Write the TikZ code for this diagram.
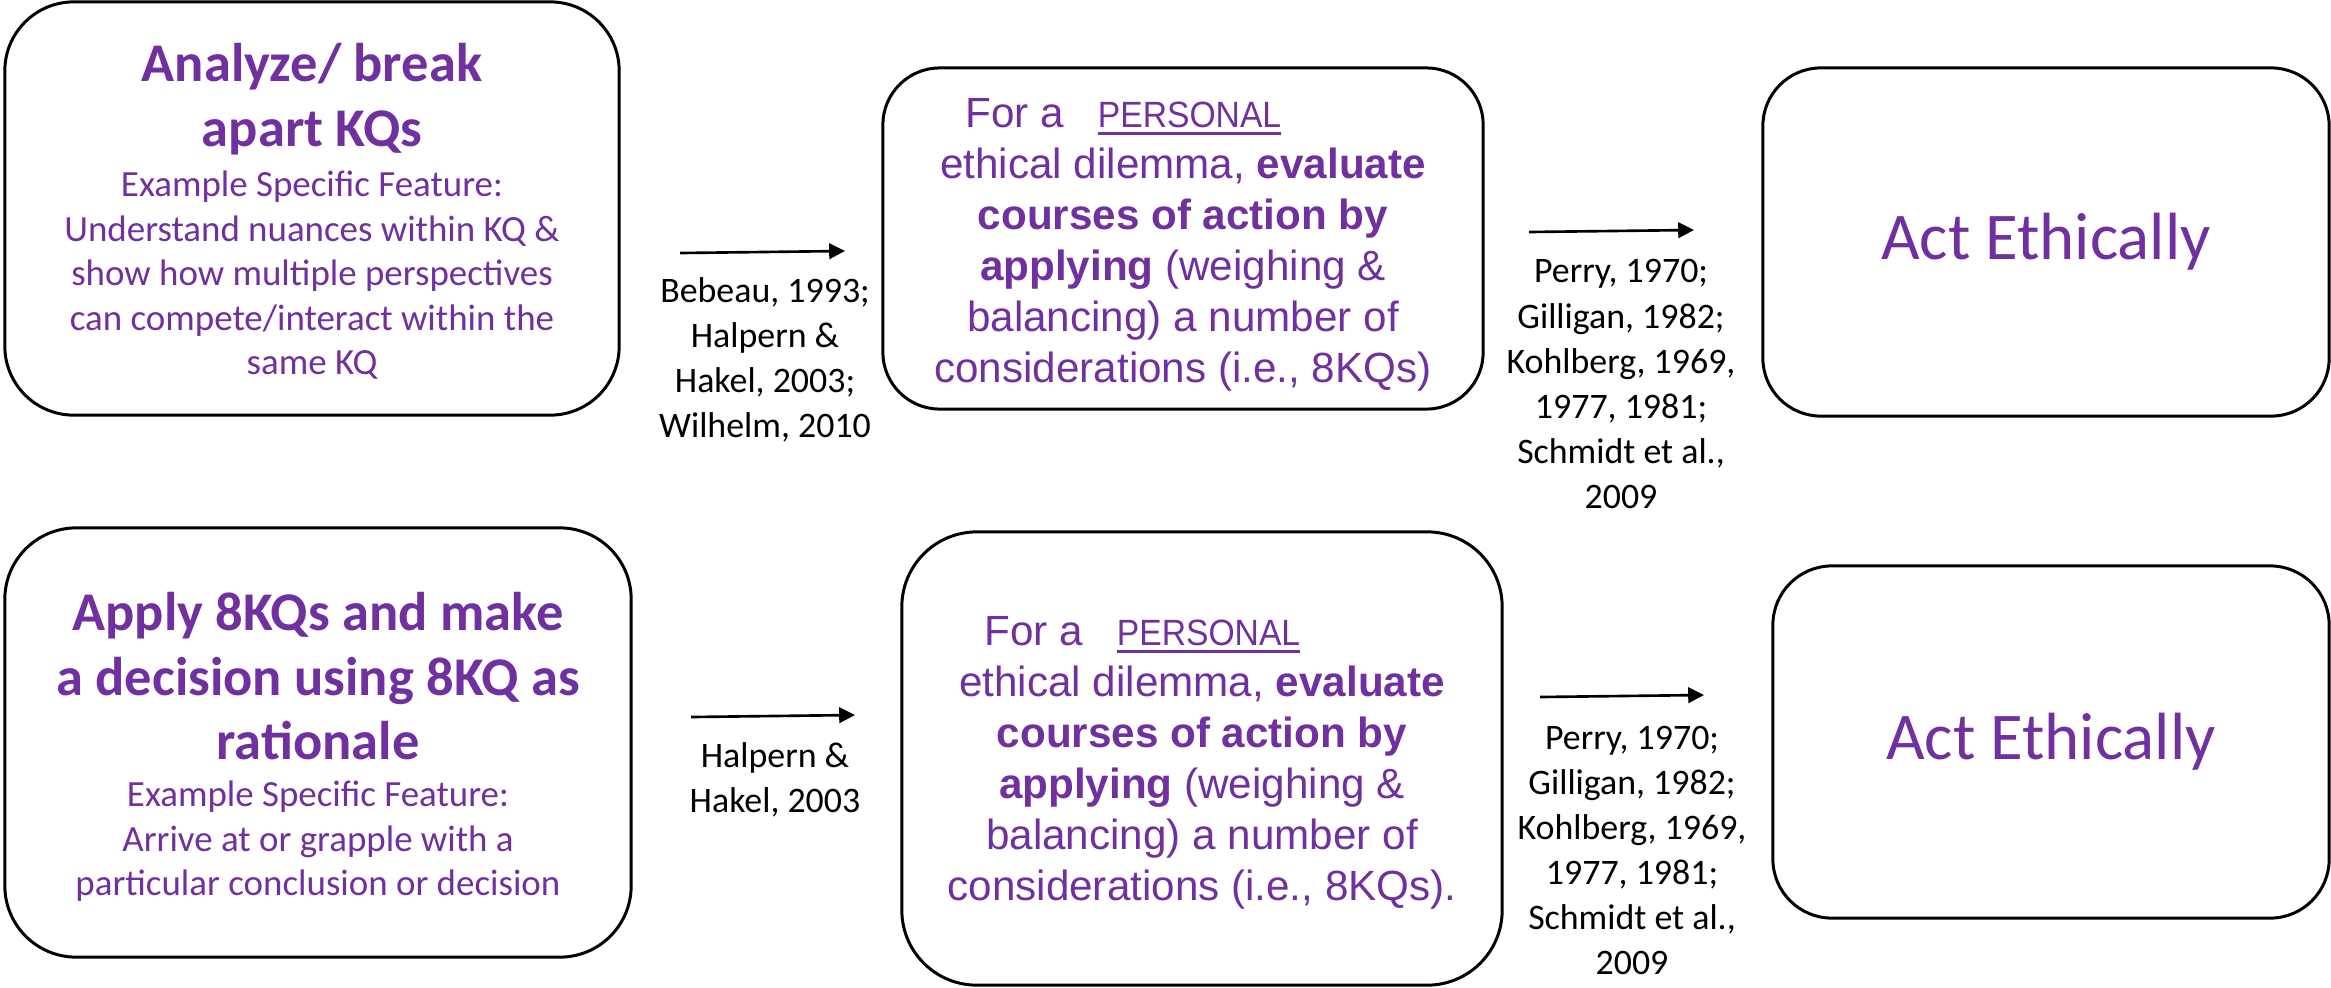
\documentclass[tikz,border=0pt]{standalone}
\usepackage{fontspec}
\usepackage{xcolor}
\usepackage{tikz}
\usetikzlibrary{arrows.meta}
\setmainfont{Carlito}
\newfontfamily\arialfont{Liberation Sans}
\newfontfamily\narrowfont[FakeStretch=0.92]{Liberation Sans}
\definecolor{kqpurple}{HTML}{7030A0}
\newcommand{\undl}[1]{\setbox0\hbox{#1}\rlap{\rule[-2pt]{\wd0}{0.85pt}}\box0}

\begin{document}
\begin{tikzpicture}[x=0.01cm, y=-0.01cm,
  box/.style={draw, line width=0.85pt, rounded corners=#1, inner sep=0pt},
  heading/.style={text=kqpurple, align=center, inner sep=0pt, anchor=north, font=\fontsize{15.5}{18.3}\selectfont\bfseries},
  feature/.style={text=kqpurple, align=center, inner sep=0pt, anchor=north, font=\fontsize{10.5}{12.7}\selectfont},
  course/.style={text=kqpurple, align=center, inner sep=0pt, anchor=north, font=\arialfont\fontsize{12}{14.5}\selectfont},
  act/.style={text=kqpurple, font=\fontsize{19}{23}\selectfont},
  cite/.style={align=center, inner sep=0pt, anchor=north, font=\fontsize{10.2}{12.8}\selectfont},
  link/.style={-{Triangle[length=4.5pt, width=4.4pt]}, line width=0.75pt}]
\useasboundingbox (0, 0) rectangle (2331, 987);

% top row
\node[box=19.6pt, minimum width=6.14cm, minimum height=4.13cm] (A1) at (312, 208.5) {};
\node[heading] (A1t) at (312, 43) {Analyze/ break\\apart KQs};
\node[feature] (A1f) at (312, 170) {Example Specific Feature:\\Understand nuances within KQ \&\\show how multiple perspectives\\can compete/interact within the\\same KQ};

\node[box=16.2pt, minimum width=6cm, minimum height=3.41cm] (B1) at (1183, 238.5) {};
\node[course] (B1t) at (1183, 98) {For a\hspace{9.7pt}\undl{\narrowfont\fontsize{10.4}{14.5}\selectfont PERSONAL}\hspace*{34pt}\\ethical dilemma, \textbf{evaluate}\\\textbf{courses of action by}\\\textbf{applying} (weighing \&\\balancing) a number of\\considerations (i.e., 8KQs)};

\node[box=16.5pt, act, minimum width=5.66cm, minimum height=3.48cm] (C1) at (2046, 242) {Act Ethically};

\node[cite] (R1) at (765, 277) {Bebeau, 1993;\\Halpern \&\\Hakel, 2003;\\Wilhelm, 2010};
\node[cite] (R2) at (1621, 259) {Perry, 1970;\\Gilligan, 1982;\\Kohlberg, 1969,\\1977, 1981;\\Schmidt et al.,\\2009};

\coordinate (l1a) at (680, 253);
\coordinate (l1b) at (845, 251);
\coordinate (l2a) at (1529, 232);
\coordinate (l2b) at (1694, 230);
\draw[link] (l1a) -- (l1b);
\draw[link] (l2a) -- (l2b);

% bottom row
\node[box=20.3pt, minimum width=6.26cm, minimum height=4.29cm] (A2) at (318, 742.5) {};
\node[heading] (A2t) at (318, 592) {Apply 8KQs and make\\a decision using 8KQ as\\rationale};
\node[feature] (A2f) at (318, 780) {Example Specific Feature:\\Arrive at or grapple with a\\particular conclusion or decision};

\node[box=21.3pt, minimum width=6cm, minimum height=4.53cm] (B2) at (1202, 758.5) {};
\node[course] (B2t) at (1202, 616) {For a\hspace{9.7pt}\undl{\narrowfont\fontsize{10.4}{14.5}\selectfont PERSONAL}\hspace*{34pt}\\ethical dilemma, \textbf{evaluate}\\\textbf{courses of action by}\\\textbf{applying} (weighing \&\\balancing) a number of\\considerations (i.e., 8KQs).};

\node[box=16.8pt, act, minimum width=5.56cm, minimum height=3.52cm] (C2) at (2051, 742) {Act Ethically};

\node[cite] (R3) at (775, 742) {Halpern \&\\Hakel, 2003};
\node[cite] (R4) at (1632, 725) {Perry, 1970;\\Gilligan, 1982;\\Kohlberg, 1969,\\1977, 1981;\\Schmidt et al.,\\2009};

\coordinate (l3a) at (691, 717);
\coordinate (l3b) at (855, 715);
\coordinate (l4a) at (1540, 697);
\coordinate (l4b) at (1704, 695);
\draw[link] (l3a) -- (l3b);
\draw[link] (l4a) -- (l4b);
\end{tikzpicture}
\end{document}
